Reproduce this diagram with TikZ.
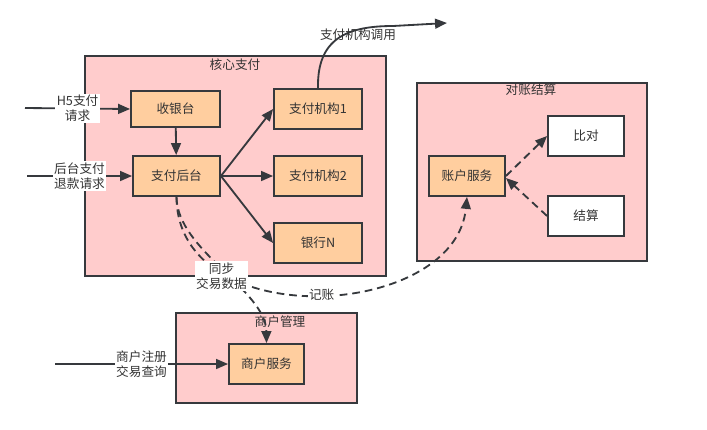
\documentclass[tikz,border=0pt]{standalone}
\usepackage{fontspec}
\setmainfont{Noto Sans CJK SC}
\usetikzlibrary{arrows.meta, positioning}

\definecolor{boxpink}{HTML}{FFCCCC}
\definecolor{svcorange}{HTML}{FFCE9F}
\definecolor{edgegray}{HTML}{36393D}
\definecolor{txtgray}{HTML}{333333}

\begin{document}
\begin{tikzpicture}[
        x=0.025cm, y=-0.025cm,
        every node/.style={font=\fontsize{9pt}{10.8pt}\selectfont, text=txtgray},
        group/.style={draw=edgegray, fill=boxpink, line width=1.3pt, rectangle, inner sep=0pt},
        svc/.style={draw=edgegray, fill=svcorange, line width=1.3pt, rectangle, minimum width=2.2cm, minimum height=1.0cm},
        plain/.style={draw=edgegray, fill=white, line width=1.3pt, rectangle, minimum width=1.9cm, minimum height=1.0cm},
        lbl/.style={fill=white, inner sep=1pt, align=center},
        arrow/.style={-{Triangle[length=8.5pt, width=7pt]}, line width=1.3pt, draw=edgegray},
        dasharrow/.style={arrow, dash pattern=on 5.5pt off 3.5pt}
    ]
        \useasboundingbox (0,0) rectangle (707,429);

        % === Group boxes ===
        \node[group, minimum width=7.525cm, minimum height=5.5cm] (core) at (235.5,166) {};
        \node at (235,65) (coreT) {核心支付};

        \node[group, minimum width=5.75cm, minimum height=4.45cm] (recon) at (532,172) {};
        \node at (531,90) (reconT) {对账结算};

        \node[group, minimum width=4.525cm, minimum height=2.25cm] (merch) at (266.5,358) {};
        \node at (280,322) (merchT) {商户管理};

        % === Core payment ===
        \node[svc, minimum width=2.225cm, minimum height=0.9cm] (cashier) at (175.5,109) {收银台};
        \node[svc, minimum width=2.175cm] (backend) at (176.5,176) {支付后台};
        \node[svc] (inst1) at (318,109) {支付机构1};
        \node[svc] (inst2) at (318,176) {支付机构2};
        \node[svc] (bank) at (318,243) {银行N};

        % === Reconciliation ===
        \node[svc, minimum width=1.9cm] (account) at (467,176) {账户服务};
        \node[plain] (compare) at (586,136) {比对};
        \node[plain] (settle) at (586,216) {结算};

        % === Merchant ===
        \node[svc, minimum width=1.875cm] (mservice) at (266.5,364) {商户服务};

        % Free ends of the input and output lines
        \coordinate (inH5) at (25,108);
        \coordinate (inBack) at (27,176);
        \coordinate (inMerch) at (55,364);
        \coordinate (instOut) at (447,23);

        % Inputs
        \draw[arrow] (inH5) -- (cashier.west) node[lbl, midway] {H5支付\\请求};
        \draw[arrow] (inBack) -- (backend.west) node[lbl, midway] {后台支付\\退款请求};
        \draw[arrow] (inMerch) -- (mservice.west) node[lbl, midway] {商户注册\\交易查询};

        % Inside core payment
        \draw[arrow] (cashier) -- (backend);
        \draw[arrow] (backend.east) -- (inst1.west);
        \draw[arrow] (backend.east) -- (inst2.west);
        \draw[arrow] (backend.east) -- (bank.west);

        % Call out to institutions
        \draw[arrow] (inst1.north) .. controls (317,40) and (345,26) .. (393,26) -- (instOut);
        \node at (358,35) (callT) {支付机构调用};

        % Reconciliation arrows
        \draw[dasharrow] (account.east) -- (compare.west);
        \draw[dasharrow] (settle.west) -- ([yshift=-0.05cm]account.east);

        % Dashed data flows
        \draw[dasharrow] (backend.south) .. controls (177,335) and (455,320) .. (account.south)
            node[lbl, pos=0.51] (bookT) {记账};
        \draw[dasharrow] (backend.south) .. controls (177,250) and (266,290) .. (mservice.north)
            node[lbl, pos=0.5, yshift=-0.15cm] (syncT) {同步\\交易数据};

    \end{tikzpicture}
\end{document}
